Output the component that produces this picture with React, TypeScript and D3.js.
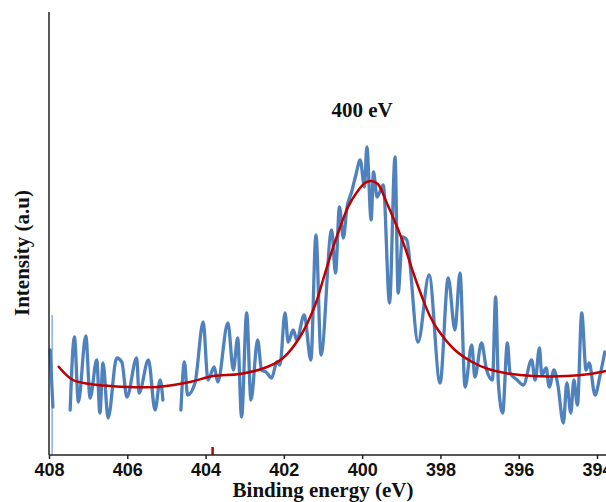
import { useEffect, useRef } from 'react'
import * as d3 from 'd3'

const WIDTH = 606
const HEIGHT = 502

// binding energy (eV) of the raw N1s scan
const rawBE = [
  407.97, 407.90, 407.69, 407.46, 407.35, 407.25, 407.06, 406.95, 406.78, 406.70,
  406.62, 406.49, 406.27, 406.14, 406.01, 405.76, 405.70, 405.46, 405.29, 405.16,
  405.09, 404.86, 404.63, 404.54, 404.46, 404.27, 404.06, 403.94, 403.78, 403.69,
  403.43, 403.29, 403.18, 403.08, 402.95, 402.84, 402.67, 402.57, 402.46, 402.31,
  402.18, 402.10, 401.97, 401.89, 401.76, 401.67, 401.48, 401.31, 401.18, 401.05,
  400.78, 400.68, 400.58, 400.48, 400.39, 400.27, 400.16, 400.05, 399.94, 399.88,
  399.77, 399.71, 399.62, 399.46, 399.30, 399.16, 399.08, 398.97, 398.86, 398.57,
  398.29, 398.01, 397.80, 397.63, 397.50, 397.37, 397.20, 397.12, 396.95, 396.82,
  396.67, 396.59, 396.52, 396.41, 396.29, 396.22, 396.04, 395.88, 395.67, 395.58,
  395.47, 395.41, 395.30, 395.22, 395.10, 395.00, 394.86, 394.77, 394.67, 394.59,
  394.50, 394.39, 394.28, 394.20, 394.05, 393.92, 393.80,
]
// null = dropout in the scan
const rawCounts = [
  1050, 480, null, 450, 1180, 530, 1190, 570, 950, 420,
  920, 370, 970, 930, 580, 970, 620, 950, 450, 750,
  550, null, 450, 930, 600, 720, 1330, 750, 880, 730,
  1320, 850, 1170, 380, 1420, 550, 1150, 850, 830, 770,
  930, 900, 1420, 1130, 1250, 1150, 1400, 950, 2200, 1000,
  2250, 1820, 2480, 2170, 2470, 2630, 2800, 2950, 2680, 3080,
  2350, 2830, 2580, 2700, 1520, 2980, 1620, 2180, 2150, 1130,
  1800, 720, 1770, 1250, 1820, 680, 1100, 780, 1120, 850,
  750, 1580, 720, 420, 1120, 820, 750, 700, 950, 750,
  1070, 800, 870, 680, 850, 700, 320, 720, 420, 750,
  500, 1420, 850, 920, 600, 800, 1030,
]

// fitted envelope
const fitBE = [
  407.77, 407.39, 406.95, 406.44, 405.93, 405.24, 404.40, 403.81, 403.12, 402.43,
  402.02, 401.59, 401.20, 401.00, 400.78, 400.57, 400.36, 400.13, 399.93, 399.77,
  399.60, 399.37, 399.16, 398.91, 398.70, 398.48, 398.27, 398.06, 397.63, 397.19,
  396.78, 396.35, 395.64, 394.77, 394.18, 393.77,
]
const fitCounts = [
  890, 750, 710, 690, 680, 680, 730, 790, 810, 880,
  970, 1180, 1500, 1750, 2030, 2270, 2480, 2630, 2720, 2740,
  2710, 2520, 2330, 2080, 1830, 1590, 1390, 1250, 1050, 930,
  860, 820, 790, 790, 810, 840,
]

// stray marks sitting on the baseline
const strayBlue = [[407.92, 0], [407.92, 1400]]
const strayRed = [[403.82, 0], [403.82, 80]]

const xTicks = [408, 406, 404, 402, 400, 398, 396, 394]
const peakLabel = '400 eV'

export default function App() {
  const svgRef = useRef(null)

  useEffect(() => {
    if (!svgRef.current) return
    const svg = d3.select(svgRef.current)
    svg.selectAll('*').remove()

    const x = d3.scaleLinear().domain([408, 394]).range([49, 597])
    const y = d3.scaleLinear().domain([0, 4430]).range([455, 12])

    const raw = rawBE.map((be, i) => [be, rawCounts[i]])
    const fit = fitBE.map((be, i) => [be, fitCounts[i]])

    const line = d3.line()
      .defined(d => d[1] != null)
      .x(d => x(d[0]))
      .y(d => y(d[1]))

    svg.append('path')
      .datum(strayBlue)
      .attr('d', line)
      .attr('fill', 'none')
      .attr('stroke', '#6f9bd1')
      .attr('stroke-width', 1.2)

    svg.append('path')
      .datum(strayRed)
      .attr('d', line)
      .attr('fill', 'none')
      .attr('stroke', '#c00000')
      .attr('stroke-width', 2.5)

    svg.append('path')
      .datum(raw)
      .attr('d', line.curve(d3.curveMonotoneX))
      .attr('fill', 'none')
      .attr('stroke', '#4f81bd')
      .attr('stroke-width', 3.3)
      .attr('stroke-linejoin', 'round')
      .attr('stroke-linecap', 'round')

    svg.append('path')
      .datum(fit)
      .attr('d', line.curve(d3.curveCatmullRom))
      .attr('fill', 'none')
      .attr('stroke', '#c00000')
      .attr('stroke-width', 2.5)

    // axes
    const xAxis = svg.append('g')
      .attr('transform', `translate(0,${y(0)})`)
      .call(d3.axisBottom(x).tickValues(xTicks).tickSize(4).tickSizeOuter(0).tickPadding(4))
    xAxis.select('.domain')
      .attr('d', `M49,0H${WIDTH}`)
      .attr('stroke', '#222')
      .attr('stroke-width', 1.5)
    xAxis.selectAll('.tick line').attr('stroke', '#222').attr('stroke-width', 1.5)
    xAxis.selectAll('.tick text')
      .attr('fill', '#111')
      .attr('font-family', '"Liberation Sans", Arial, sans-serif')
      .attr('font-weight', 'bold')
      .attr('font-size', 18)

    svg.append('line')
      .attr('x1', 49).attr('x2', 49)
      .attr('y1', y(4430)).attr('y2', y(0))
      .attr('stroke', '#222')
      .attr('stroke-width', 1.5)

    const serif = '"Liberation Serif", "Times New Roman", serif'

    svg.append('text')
      .attr('x', x(401))
      .attr('y', 497)
      .attr('text-anchor', 'middle')
      .attr('font-family', serif)
      .attr('font-weight', 'bold')
      .attr('font-size', 21)
      .attr('fill', '#111')
      .text('Binding energy (eV)')

    svg.append('text')
      .attr('transform', 'rotate(-90)')
      .attr('x', -253)
      .attr('y', 29)
      .attr('text-anchor', 'middle')
      .attr('font-family', serif)
      .attr('font-weight', 'bold')
      .attr('font-size', 21)
      .attr('fill', '#111')
      .text('Intensity (a.u)')

    svg.append('text')
      .attr('x', x(400))
      .attr('y', 117)
      .attr('text-anchor', 'middle')
      .attr('font-family', serif)
      .attr('font-weight', 'bold')
      .attr('font-size', 21)
      .attr('fill', '#111')
      .text(peakLabel)
  }, [])

  return (
    <svg
      ref={svgRef}
      width={WIDTH}
      height={HEIGHT}
      style={{ position: 'absolute', left: 0, top: 0, background: '#fff' }}
    />
  )
}
